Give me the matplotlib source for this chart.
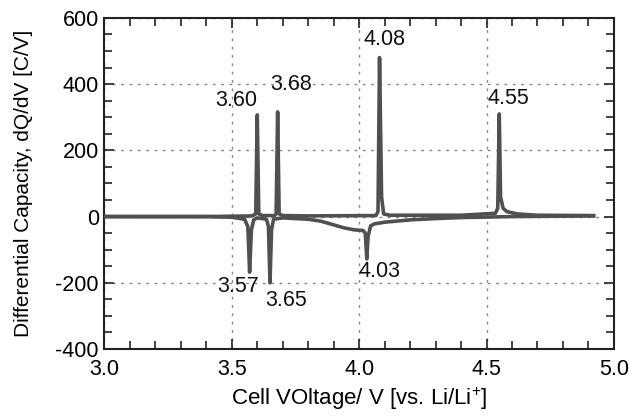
import matplotlib
matplotlib.use("Agg")
import matplotlib.pyplot as plt
from matplotlib.ticker import MultipleLocator

plt.rcParams['font.family'] = ['Liberation Sans', 'DejaVu Sans']
plt.rcParams['axes.unicode_minus'] = False
plt.rcParams['mathtext.fontset'] = 'custom'
plt.rcParams['mathtext.rm'] = 'Liberation Sans'

# Charge curve (V, dQ/dV)
charge_v = [3.00, 3.40, 3.58, 3.594, 3.600, 3.606, 3.62, 3.668, 3.674, 3.680, 3.686, 3.70,
            3.80, 4.066, 4.074, 4.080, 4.088, 4.096, 4.12, 4.40, 4.535, 4.544, 4.550,
            4.555, 4.565, 4.58, 4.62, 4.70, 4.92]
charge_q = [0, 0, 2, 8, 307, 8, 3, 3, 8, 316, 8, 3,
            2, 3, 15, 480, 60, 8, 4, 4, 10, 25, 310,
            60, 25, 15, 8, 4, 3]

# Discharge curve (V, dQ/dV)
dis_v = [4.92, 4.60, 4.40, 4.30, 4.20, 4.10, 4.06, 4.045, 4.035, 4.030, 4.024, 4.015,
         3.98, 3.94, 3.90, 3.85, 3.80, 3.70, 3.664, 3.656, 3.650, 3.644, 3.636,
         3.60, 3.586, 3.577, 3.570, 3.563, 3.55, 3.50, 3.40, 3.00]
dis_q = [2, 0, -3, -6, -10, -17, -22, -28, -60, -128, -50, -42,
         -40, -34, -25, -14, -8, -4, -8, -40, -200, -30, -8,
         -4, -10, -40, -168, -30, -8, -2, 0, 0]

labels = ["3.60", "3.68", "4.08", "4.55", "3.57", "3.65", "4.03"]
label_x = [3.516, 3.732, 4.098, 4.587, 3.524, 3.713, 4.079]
label_y = [352, 398, 534, 358, -212, -252, -167]

fig = plt.figure(figsize=(6.29, 4.16), dpi=100)
ax = fig.add_axes([0.166, 0.161, 0.810, 0.796])

line_color = '#505050'
ax.plot(dis_v, dis_q, color=line_color, lw=2.6, solid_joinstyle='round', zorder=3)
ax.plot(charge_v, charge_q, color=line_color, lw=2.6, solid_joinstyle='round', zorder=3)

for t, x, y in zip(labels, label_x, label_y):
    ax.text(x, y, t, ha='center', va='center', fontsize=15.5, color='#111111', zorder=4)

ax.set_xlim(3.0, 5.0)
ax.set_ylim(-400, 600)
ax.xaxis.set_major_locator(MultipleLocator(0.5))
ax.xaxis.set_minor_locator(MultipleLocator(0.1))
ax.yaxis.set_major_locator(MultipleLocator(200))
ax.yaxis.set_minor_locator(MultipleLocator(50))
ax.set_xticks([3.0, 3.5, 4.0, 4.5, 5.0])
ax.set_xticklabels(["3.0", "3.5", "4.0", "4.5", "5.0"])
ax.tick_params(which='both', direction='in', top=True, right=True, color='#222222')
ax.tick_params(which='major', length=7, width=1.2, labelsize=15.5)
ax.tick_params(axis='y', which='major', pad=4)
ax.tick_params(axis='x', which='major', pad=7)
ax.tick_params(which='minor', length=6, width=1.2)
ax.grid(True, which='major', linestyle=(0, (2, 4)), color='#888888', lw=1.0)
for s in ax.spines.values():
    s.set_linewidth(1.5)
    s.set_color('#222222')

ax.set_xlabel("Cell VOltage/ V [vs. Li/Li$^{+}$]", fontsize=16, labelpad=4)
ax.set_ylabel("Differential Capacity, dQ/dV [C/V]", fontsize=15, labelpad=16)

fig.savefig("out.png", dpi=100)
